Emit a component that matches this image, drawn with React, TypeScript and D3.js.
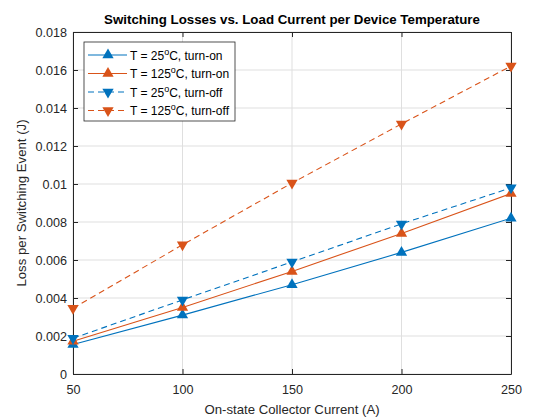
import { useEffect, useRef } from "react"
import * as d3 from "d3"

const currents = [50, 100, 150, 200, 250]
const onCold = [0.00155, 0.0031, 0.0047, 0.0064, 0.0082]
const onHot = [0.00172, 0.0035, 0.0054, 0.0074, 0.0095]
const offCold = [0.00188, 0.0039, 0.0059, 0.0079, 0.0098]
const offHot = [0.00346, 0.0068, 0.01005, 0.01316, 0.01621]
const yTicks = [0, 0.002, 0.004, 0.006, 0.008, 0.01, 0.012, 0.014, 0.016, 0.018]
const xTicks = [50, 100, 150, 200, 250]

const BLUE = "#0072BD"
const ORANGE = "#D95319"

const series = [
  { temp: "25", kind: "turn-on", values: onCold, color: BLUE, dash: null, up: true },
  { temp: "125", kind: "turn-on", values: onHot, color: ORANGE, dash: null, up: true },
  { temp: "25", kind: "turn-off", values: offCold, color: BLUE, dash: "6,4", up: false },
  { temp: "125", kind: "turn-off", values: offHot, color: ORANGE, dash: "6,4", up: false },
]

export default function App() {
  const svgRef = useRef<SVGSVGElement>(null)
  const width = 560
  const height = 420

  useEffect(() => {
    const svg = d3.select(svgRef.current)
    svg.selectAll("*").remove()

    const margin = { top: 32, right: 49, bottom: 46, left: 73 }
    const innerWidth = width - margin.left - margin.right
    const innerHeight = height - margin.top - margin.bottom
    const font = "'Liberation Sans', Arial, sans-serif"

    const x = d3.scaleLinear().domain([50, 250]).range([0, innerWidth])
    const y = d3.scaleLinear().domain([0, 0.018]).range([innerHeight, 0])

    svg.append("rect").attr("width", width).attr("height", height).attr("fill", "#fff")

    const g = svg.append("g").attr("transform", `translate(${margin.left},${margin.top})`)

    g.append("rect").attr("width", innerWidth).attr("height", innerHeight).attr("fill", "#fff")

    // grid
    g.selectAll(".gx")
      .data(xTicks)
      .enter()
      .append("line")
      .attr("x1", (d) => x(d))
      .attr("x2", (d) => x(d))
      .attr("y1", 0)
      .attr("y2", innerHeight)
      .attr("stroke", "#dfdfdf")
    g.selectAll(".gy")
      .data(yTicks)
      .enter()
      .append("line")
      .attr("x1", 0)
      .attr("x2", innerWidth)
      .attr("y1", (d) => y(d))
      .attr("y2", (d) => y(d))
      .attr("stroke", "#dfdfdf")

    // axes (ticks inside)
    const xAxis = g
      .append("g")
      .attr("transform", `translate(0,${innerHeight})`)
      .call(d3.axisBottom(x).tickValues(xTicks).tickSizeInner(-5).tickSizeOuter(0).tickPadding(11).tickFormat(d3.format("d")))
    const yAxis = g
      .append("g")
      .call(d3.axisLeft(y).tickValues(yTicks).tickSizeInner(-5).tickSizeOuter(0).tickPadding(6).tickFormat((d) => (d === 0 ? "0" : String(+(+d).toFixed(3)))))
    g.append("g")
      .attr("transform", `translate(${innerWidth},0)`)
      .call(d3.axisRight(y).tickValues(yTicks).tickSizeInner(-5).tickSizeOuter(0).tickFormat(() => ""))
    g.append("g").call(d3.axisTop(x).tickValues(xTicks).tickSizeInner(-5).tickSizeOuter(0).tickFormat(() => ""))

    g.selectAll(".domain").attr("stroke", "#262626")
    g.selectAll(".tick line").attr("stroke", "#262626")
    for (const ax of [xAxis, yAxis]) {
      ax.selectAll("text").attr("fill", "#262626").style("font-family", font).style("font-size", "12.6px")
    }

    // lines + markers
    const line = d3
      .line<number>()
      .x((_, i) => x(currents[i]))
      .y((d) => y(d))
    const tri = d3.symbol().type(d3.symbolTriangle).size(55)

    for (const s of series) {
      g.append("path")
        .datum(s.values)
        .attr("fill", "none")
        .attr("stroke", s.color)
        .attr("stroke-width", 1.1)
        .attr("stroke-dasharray", s.dash)
        .attr("d", line)
      g.selectAll(null)
        .data(s.values)
        .enter()
        .append("path")
        .attr("d", tri)
        .attr("fill", s.color)
        .attr("transform", (d, i) => `translate(${x(currents[i])},${y(d)}) rotate(${s.up ? 0 : 180})`)
    }

    // legend
    const lg = g.append("g").attr("transform", "translate(11,10)")
    lg.append("rect")
      .attr("width", 151)
      .attr("height", 79)
      .attr("fill", "#fff")
      .attr("stroke", "#262626")
      .attr("stroke-width", 0.8)
    series.forEach((s, i) => {
      const cy = 13 + i * 18.5
      lg.append("line")
        .attr("x1", 4)
        .attr("x2", 43)
        .attr("y1", cy)
        .attr("y2", cy)
        .attr("stroke", s.color)
        .attr("stroke-width", 1.1)
        .attr("stroke-dasharray", s.dash)
      lg.append("path")
        .attr("d", tri)
        .attr("fill", s.color)
        .attr("transform", `translate(24,${cy}) rotate(${s.up ? 0 : 180})`)
      const t = lg
        .append("text")
        .attr("x", 46)
        .attr("y", cy + 4.5)
        .attr("fill", "#000")
        .style("font-family", font)
        .style("font-size", "12px")
      t.append("tspan").text(`T = ${s.temp}`)
      t.append("tspan").attr("dy", -5).style("font-size", "9px").text("o")
      t.append("tspan").attr("dy", 5).text(`C, ${s.kind}`)
    })

    // titles
    svg.append("text")
      .attr("x", margin.left + innerWidth / 2)
      .attr("y", 24)
      .attr("text-anchor", "middle")
      .style("font-family", font)
      .style("font-size", "13.3px")
      .style("font-weight", "bold")
      .text("Switching Losses vs. Load Current per Device Temperature")
    svg.append("text")
      .attr("x", margin.left + innerWidth / 2)
      .attr("y", 414)
      .attr("text-anchor", "middle")
      .attr("fill", "#262626")
      .style("font-family", font)
      .style("font-size", "13.2px")
      .text("On-state Collector Current (A)")
    svg.append("text")
      .attr("transform", `translate(26,${margin.top + innerHeight / 2}) rotate(-90)`)
      .attr("text-anchor", "middle")
      .attr("fill", "#262626")
      .style("font-family", font)
      .style("font-size", "13.2px")
      .text("Loss per Switching Event (J)")
  }, [])

  return (
    <svg
      ref={svgRef}
      width={width}
      height={height}
      style={{ position: "absolute", left: 0, top: 0, display: "block" }}
    />
  )
}
